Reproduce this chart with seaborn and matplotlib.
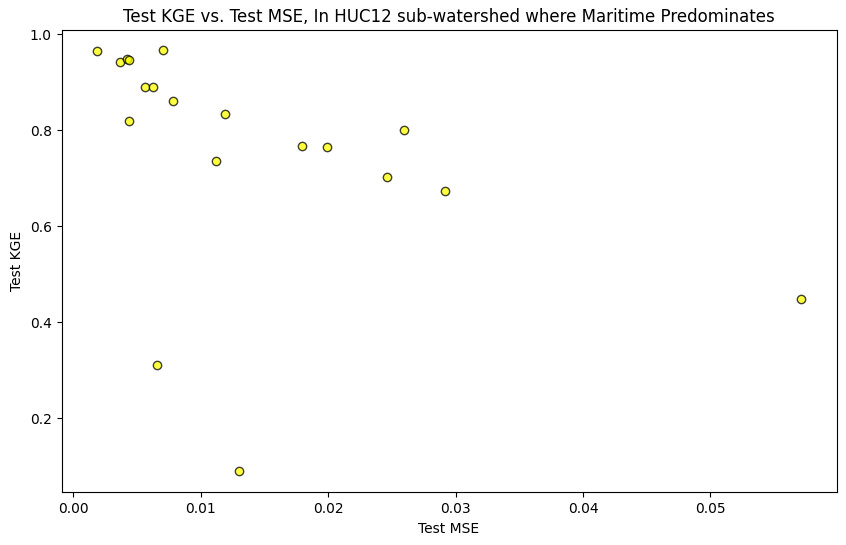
import pandas as pd
import matplotlib
matplotlib.use("Agg")
import matplotlib.pyplot as plt
import seaborn as sns

# values
test_mse = [0.00184, 0.00369, 0.00422, 0.00435, 0.0056, 0.00628, 0.00702, 0.0078, 0.00435,
            0.01188, 0.0112, 0.01798, 0.01991, 0.02593, 0.0246, 0.0292, 0.05712, 0.00659, 0.0130]
test_kge = [0.9647, 0.9415, 0.948, 0.946, 0.8897, 0.8897, 0.966, 0.8605, 0.819,
            0.834, 0.7363, 0.7662, 0.7654, 0.8008, 0.7017, 0.6738, 0.4477, 0.3103, 0.091]

x_limits = (-0.00093, 0.0599)
y_limits = (0.046, 1.0075)

df = pd.DataFrame({"Test MSE": test_mse, "Test KGE": test_kge})

fig, ax = plt.subplots(figsize=(8.46, 5.45), dpi=100)
sns.scatterplot(data=df, x="Test MSE", y="Test KGE", color="yellow", edgecolor="black",
                alpha=0.75, s=36, linewidth=1, ax=ax)
ax.set_xlim(x_limits)
ax.set_ylim(y_limits)
ax.set_title("Test KGE vs. Test MSE, In HUC12 sub-watershed where Maritime Predominates")
fig.subplots_adjust(left=61.5 / 846, right=836.5 / 846, top=1 - 30.4 / 545, bottom=1 - 492.3 / 545)

fig.savefig("out.png", dpi=100)
